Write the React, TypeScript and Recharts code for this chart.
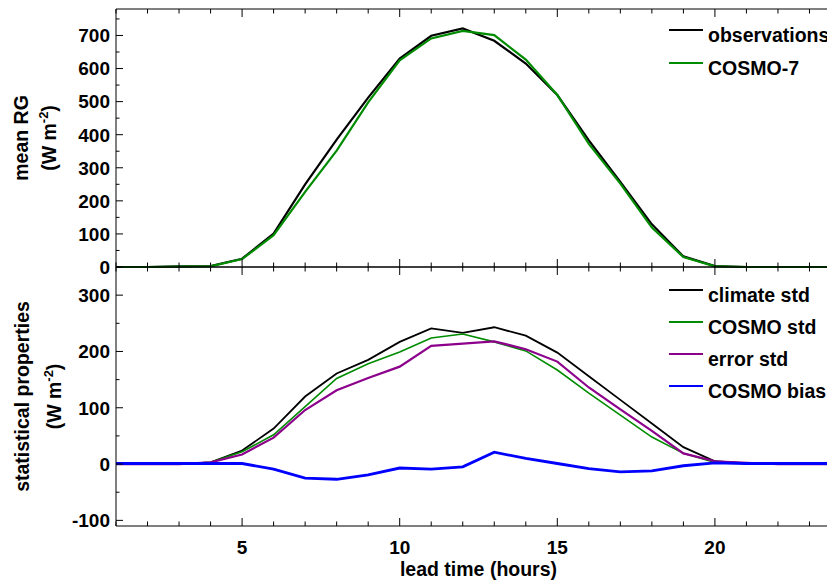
import React from 'react';
import { LineChart, Line, XAxis, YAxis, Legend } from 'recharts';

// ---------- data ----------
const hours = [1, 2, 3, 4, 5, 6, 7, 8, 9, 10, 11, 12, 13, 14, 15, 16, 17, 18, 19, 20, 21, 22, 23, 24];

const observations = [0, 0, 2, 3, 25, 101, 250, 385, 512, 630, 699, 721, 684, 615, 520, 383, 257, 129, 32, 3, 0, 0, 0, 0];
const cosmo7 = [0, 0, 1, 2, 24, 96, 227, 352, 498, 625, 691, 714, 701, 627, 520, 372, 252, 119, 30, 2, 0, 0, 0, 0];

const climateStd = [0, 0, 0, 3, 24, 63, 120, 161, 185, 217, 241, 233, 243, 228, 198, 156, 114, 72, 30, 5, 1, 0, 0, 0];
const cosmoStd = [0, 0, 0, 3, 22, 52, 102, 152, 178, 199, 224, 231, 217, 201, 167, 126, 87, 48, 19, 3, 1, 0, 0, 0];
const errorStd = [0, 0, 0, 3, 17, 47, 96, 131, 153, 173, 210, 214, 218, 204, 182, 136, 97, 59, 19, 5, 2, 0, 0, 0];
const cosmoBias = [1, 1, 1, 1, 1, -9, -25, -27, -19, -7, -9, -5, 21, 10, 1, -8, -14, -12, -3, 2, 1, 1, 1, 1];

const xTicks = hours;
const topYTicks = [0, 50, 100, 150, 200, 250, 300, 350, 400, 450, 500, 550, 600, 650, 700, 750];
const bottomYTicks = [-100, -50, 0, 50, 100, 150, 200, 250, 300, 350];

const topSeriesNames = ['observations', 'COSMO-7'];
const bottomSeriesNames = ['climate std', 'COSMO std', 'error std', 'COSMO bias'];

const topData = hours.map((h, i) => ({ hour: h, observations: observations[i], cosmo7: cosmo7[i] }));
const bottomData = hours.map((h, i) => ({
  hour: h,
  climateStd: climateStd[i],
  cosmoStd: cosmoStd[i],
  errorStd: errorStd[i],
  cosmoBias: cosmoBias[i],
}));

// ---------- styles ----------
const FONT = "'Liberation Sans', Arial, Helvetica, sans-serif";
const BLACK = '#000000';
const GREEN = '#008c00';
const PURPLE = '#8c008c';
const BLUE = '#0000ff';

const textProps = { fontFamily: FONT, fontWeight: 'bold' as const, fill: '#000' };

// ---------- custom ticks ----------
const makeXTick = (dir: number, labels: boolean) => (props: any) => {
  const { x, y, payload } = props;
  const v = payload.value;
  const major = v % 5 === 0;
  const len = major ? 8 : 4.5;
  return (
    <g>
      <line x1={x} x2={x} y1={y} y2={y + dir * len} stroke="#000" strokeWidth={1} />
      {labels && major && (
        <text x={x} y={y + 28} textAnchor="middle" fontSize={19} {...textProps}>
          {v}
        </text>
      )}
    </g>
  );
};

const makeYTick = (dir: number, labels: boolean) => (props: any) => {
  const { x, y, payload } = props;
  const v = payload.value;
  const major = v % 100 === 0;
  const len = major ? 7 : 3.5;
  return (
    <g>
      <line x1={x} x2={x + dir * len} y1={y} y2={y} stroke="#000" strokeWidth={1} />
      {labels && major && (
        <text x={x - 6} y={y} dy="0.36em" textAnchor="end" fontSize={19} {...textProps}>
          {v}
        </text>
      )}
    </g>
  );
};

const yTitle = (line1: string, b1: number, b2: number) => (props: any) => {
  const vb = props.viewBox || { x: 0, y: 0, width: 0, height: 0 };
  const cy = vb.y + vb.height / 2;
  return (
    <g>
      <text transform={`translate(${vb.x + b1},${cy}) rotate(-90)`} textAnchor="middle" fontSize={19.5} {...textProps}>
        {line1}
      </text>
      <text transform={`translate(${vb.x + b2},${cy}) rotate(-90)`} textAnchor="middle" fontSize={19.5} {...textProps}>
        (W m
        <tspan dy={-8} fontSize={13}>-2</tspan>
        <tspan dy={8}>)</tspan>
      </text>
    </g>
  );
};

const xTitle = (props: any) => {
  const vb = props.viewBox || { x: 0, y: 0, width: 0, height: 0 };
  return (
    <text x={vb.x + vb.width / 2} y={vb.y + 50} textAnchor="middle" fontSize={19.5} {...textProps}>
      lead time (hours)
    </text>
  );
};

const makeLegend = (names: string[], colors: string[], spacing: number, firstBaseline: number) => () => (
  <svg width={190} height={firstBaseline + names.length * spacing}>
    {names.map((n, i) => {
      const base = firstBaseline + i * spacing;
      return (
        <g key={n}>
          <line x1={6} x2={40} y1={base - 12} y2={base - 12} stroke={colors[i]} strokeWidth={2} />
          <text x={45} y={base} fontSize={19.5} {...textProps}>
            {n}
          </text>
        </g>
      );
    })}
  </svg>
);

const CHART_W = 845;
const Y_AXIS_W = 108;

const frameAxes = (yDomain: number[], yTicks: number[], dataKey: string) => [
  <XAxis
    key="xt"
    xAxisId="top"
    orientation="top"
    dataKey="hour"
    type="number"
    domain={[1, 24]}
    ticks={xTicks}
    interval={0}
    height={1}
    tickSize={0}
    tickMargin={0}
    tickLine={false}
    tick={makeXTick(1, false)}
    axisLine={{ stroke: '#000', strokeWidth: 1 }}
  />,
  <YAxis
    key="yr"
    yAxisId="r"
    orientation="right"
    type="number"
    domain={yDomain}
    ticks={yTicks}
    interval={0}
    width={1}
    tickSize={0}
    tickMargin={0}
    tickLine={false}
    tick={makeYTick(-1, false)}
    axisLine={{ stroke: '#000', strokeWidth: 1 }}
  />,
  <Line
    key="frame"
    xAxisId="top"
    yAxisId="r"
    dataKey={dataKey}
    stroke="none"
    strokeWidth={0}
    dot={false}
    activeDot={false}
    legendType="none"
    isAnimationActive={false}
  />,
];

export default function App() {
  return (
    <div style={{ position: 'relative', width: 827, height: 575, overflow: 'hidden', background: '#fff' }}>
      <div style={{ position: 'absolute', left: 0, top: 0 }}>
        <LineChart width={CHART_W} height={273} data={topData} margin={{ top: 0, right: 11, bottom: 13, left: 0 }}>
          <XAxis
            dataKey="hour"
            type="number"
            domain={[1, 24]}
            ticks={xTicks}
            interval={0}
            height={1}
            tickSize={0}
            tickMargin={0}
            tickLine={false}
            tick={makeXTick(-1, false)}
            axisLine={{ stroke: '#000', strokeWidth: 1 }}
          />
          <YAxis
            type="number"
            domain={[0, 780]}
            ticks={topYTicks}
            interval={0}
            width={Y_AXIS_W}
            tickSize={0}
            tickMargin={0}
            tickLine={false}
            tick={makeYTick(1, true)}
            axisLine={{ stroke: '#000', strokeWidth: 1 }}
            label={yTitle('mean RG', 20, 48)}
          />
          {frameAxes([0, 780], topYTicks, 'observations')}
          <Legend
            layout="vertical"
            align="center"
            verticalAlign="middle"
            wrapperStyle={{ left: 655, top: 0, width: 190 }}
            content={makeLegend(topSeriesNames, [BLACK, GREEN], 33, 34)}
          />
          <Line type="linear" dataKey="observations" name={topSeriesNames[0]} stroke={BLACK} strokeWidth={2.2} dot={false} isAnimationActive={false} />
          <Line type="linear" dataKey="cosmo7" name={topSeriesNames[1]} stroke={GREEN} strokeWidth={2.2} dot={false} isAnimationActive={false} />
        </LineChart>
      </div>
      <div style={{ position: 'absolute', left: 0, top: 258 }}>
        <LineChart width={CHART_W} height={315} data={bottomData} margin={{ top: 0, right: 11, bottom: 0, left: 0 }}>
          <XAxis
            dataKey="hour"
            type="number"
            domain={[1, 24]}
            ticks={xTicks}
            interval={0}
            height={55}
            tickSize={0}
            tickMargin={0}
            tickLine={false}
            tick={makeXTick(-1, true)}
            axisLine={{ stroke: '#000', strokeWidth: 1 }}
            label={xTitle}
          />
          <YAxis
            type="number"
            domain={[-110, 350]}
            ticks={bottomYTicks}
            interval={0}
            width={Y_AXIS_W}
            tickSize={0}
            tickMargin={0}
            tickLine={false}
            tick={makeYTick(1, true)}
            axisLine={{ stroke: '#000', strokeWidth: 1 }}
            label={yTitle('statistical properties', 21, 53)}
          />
          {frameAxes([-110, 350], bottomYTicks, 'climateStd')}
          <Legend
            layout="vertical"
            align="center"
            verticalAlign="middle"
            wrapperStyle={{ left: 655, top: 1, width: 190 }}
            content={makeLegend(bottomSeriesNames, [BLACK, GREEN, PURPLE, BLUE], 32, 35)}
          />
          <Line type="linear" dataKey="climateStd" name={bottomSeriesNames[0]} stroke={BLACK} strokeWidth={1.8} dot={false} isAnimationActive={false} />
          <Line type="linear" dataKey="cosmoStd" name={bottomSeriesNames[1]} stroke={GREEN} strokeWidth={1.6} dot={false} isAnimationActive={false} />
          <Line type="linear" dataKey="errorStd" name={bottomSeriesNames[2]} stroke={PURPLE} strokeWidth={2.2} dot={false} isAnimationActive={false} />
          <Line type="linear" dataKey="cosmoBias" name={bottomSeriesNames[3]} stroke={BLUE} strokeWidth={2.8} dot={false} isAnimationActive={false} />
        </LineChart>
      </div>
    </div>
  );
}
